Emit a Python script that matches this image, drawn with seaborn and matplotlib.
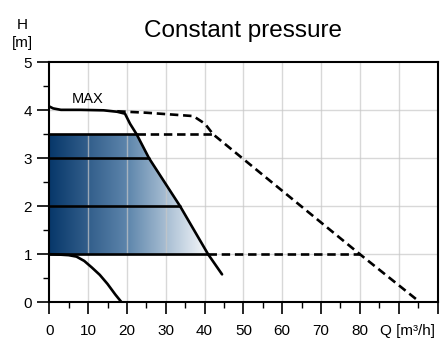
import numpy as np
import pandas as pd
import matplotlib
matplotlib.use("Agg")
import matplotlib.pyplot as plt
from matplotlib.colors import LinearSegmentedColormap
from matplotlib.patches import Polygon
import seaborn as sns

# MAX pump curve (solid)
max_q = [0, 1, 3, 8, 14, 17.5, 19.5, 20.8, 22.5, 25.7, 33.7, 40.9, 44.5]
max_h = [4.08, 4.04, 4.01, 4.01, 4.0, 3.97, 3.93, 3.72, 3.5, 3.0, 2.0, 1.0, 0.58]

# dashed extension of the max curve
ext_q = [17.5, 25, 33.7, 37.1, 40.1, 42.2, 49.9, 80, 94.7]
ext_h = [3.98, 3.95, 3.90, 3.88, 3.72, 3.5, 2.99, 1.0, 0.05]

# minimum curve (solid)
min_q = [0, 3, 5, 7, 9, 11, 13, 15, 17, 18.6]
min_h = [1.0, 0.99, 0.98, 0.95, 0.86, 0.72, 0.57, 0.38, 0.16, 0.0]

# constant pressure set points and where they meet the max curve
set_h = [3.5, 3.0, 2.0, 1.0]
set_q_end = [22.5, 25.7, 33.7, 40.9]

# dashed horizontals beyond the range
dash_h = [3.5, 1.0]
dash_q = [(22.5, 42.2), (40.9, 80)]

x_ticks = [0, 10, 20, 30, 40, 50, 60, 70, 80, 90, 100]
x_labels = ["0", "10", "20", "30", "40", "50", "60", "70", "80", "", ""]

sns.set_style("white")
plt.rcParams['font.family'] = ['Liberation Sans', 'DejaVu Sans']
plt.rcParams['text.color'] = 'black'
plt.rcParams['xtick.labelcolor'] = 'black'
plt.rcParams['ytick.labelcolor'] = 'black'

fig = plt.figure(figsize=(4.46, 3.38), dpi=100)
ax = fig.add_axes([0.1105, 0.106, 0.8705, 0.7095])

# gradient filled operating area
poly = [(0, 1.0), (0, 3.5)] + list(zip(set_q_end, set_h))
cmap = LinearSegmentedColormap.from_list("grad", ["#07376a", "#5f87ad", "#f7f9fb"])
grad = np.linspace(0, 1, 256).reshape(1, -1)
im = ax.imshow(grad, extent=[0, max(set_q_end), 1.0, 3.5], aspect="auto",
               cmap=cmap, origin="lower", zorder=1)
patch = Polygon(poly, closed=True, transform=ax.transData, facecolor="none", edgecolor="none")
ax.add_patch(patch)
im.set_clip_path(patch)

# grid
for gx in x_ticks[1:-1]:
    ax.axvline(gx, color="#c8c8c8", lw=1.0, alpha=0.7, zorder=2)
for gy in [1, 2, 3, 4]:
    ax.axhline(gy, color="#c8c8c8", lw=1.0, alpha=0.7, zorder=2)

lw = 1.9
dash = (0, (3.2, 1.8))

sns.lineplot(x=max_q, y=max_h, ax=ax, color="black", lw=lw, sort=False, estimator=None, zorder=4)
sns.lineplot(x=ext_q, y=ext_h, ax=ax, color="black", lw=lw, linestyle=dash, sort=False, estimator=None, zorder=4)
sns.lineplot(x=min_q, y=min_h, ax=ax, color="black", lw=lw, sort=False, estimator=None, zorder=4)

for h, qe in zip(set_h, set_q_end):
    sns.lineplot(x=[0, qe], y=[h, h], ax=ax, color="black", lw=lw, estimator=None, zorder=4)
for h, (q0, q1) in zip(dash_h, dash_q):
    sns.lineplot(x=[q0, q1], y=[h, h], ax=ax, color="black", lw=lw, linestyle=dash, estimator=None, zorder=4)

ax.text(10.0, 4.23, "MAX", fontsize=10.5, ha="center", va="center", zorder=5)

ax.set_xlim(0, 100)
ax.set_ylim(0, 5)
ax.set_xticks(x_ticks)
ax.set_xticklabels(x_labels)
ax.set_xticks(np.arange(5, 100, 10), minor=True)
ax.set_yticks([0, 1, 2, 3, 4, 5])
ax.set_yticks([0.5, 1.5, 2.5, 3.5, 4.5], minor=True)
ax.tick_params(axis="both", which="major", direction="out", length=8.5, width=1.2,
               labelsize=11, color="black", pad=4)
ax.tick_params(axis="both", which="minor", direction="out", length=4.5, width=1.0, color="black")
ax.tick_params(axis="x", which="major", pad=7)
ax.xaxis.set_ticks_position("bottom")
ax.yaxis.set_ticks_position("left")

for s in ax.spines.values():
    s.set_color("black")
    s.set_linewidth(1.5)
    s.set_zorder(6)

ax.text(92.2, -0.6, "Q [m³/h]", fontsize=11, ha="center", va="center")
fig.text(0.05, 0.926, "H", fontsize=11, ha="center", va="center")
fig.text(0.05, 0.872, "[m]", fontsize=11, ha="center", va="center")
fig.text(0.545, 0.891, "Constant pressure", fontsize=17.5, ha="center", va="baseline")

fig.savefig("out.png", dpi=100)
